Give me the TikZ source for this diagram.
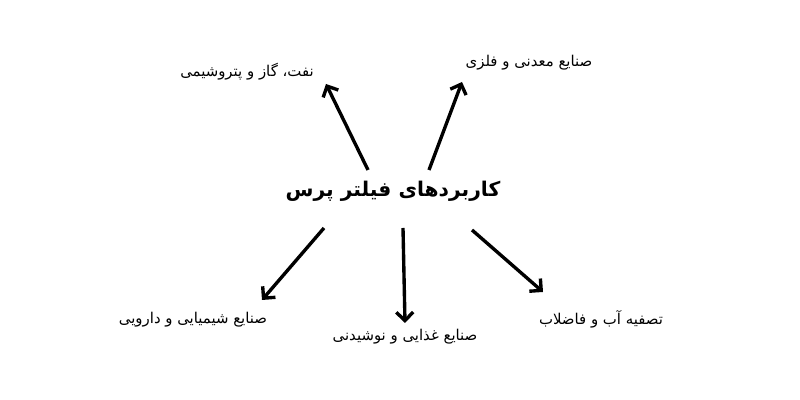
\documentclass[tikz,border=0pt]{standalone}
\usepackage{fontspec}
\newfontfamily\arabicfont[Script=Arabic]{DejaVu Sans}
\TeXXeTstate=1
\usetikzlibrary{arrows.meta}
\tikzset{
	% title in the middle and the five fields round it
	title node/.style={font=\arabicfont\bfseries\fontsize{14.4}{17}\selectfont, inner sep=1},
	field node/.style={font=\arabicfont\fontsize{10.6}{12}\selectfont, inner sep=1},
	field arrow/.style={-{Straight Barb[length=6pt,width=12pt]}, line width=2.4pt}
}
\begin{document}
\begin{tikzpicture}
  \useasboundingbox (0,0) rectangle (20,10);

  \node(title) at (9.825, 5.225) [title node]{\beginR کاربردهای فیلتر پرس\endR};

  \node(oil) at (6.175, 8.2) [field node]{\beginR نفت، گاز و پتروشیمی\endR};
  \node(metal) at (13.225, 8.425) [field node]{\beginR صنایع معدنی و فلزی\endR};
  \node(chem) at (4.825, 2.0) [field node]{\beginR صنایع شیمیایی و دارویی\endR};
  \node(food) at (10.125, 1.575) [field node]{\beginR صنایع غذایی و نوشیدنی\endR};
  \node(water) at (15.025, 2.025) [field node]{\beginR تصفیه آب و فاضلاب\endR};

  %% arrow ends, kept clear of the texts
  \coordinate(s1) at (9.2, 5.75);   \coordinate(e1) at (8.15, 7.9);
  \coordinate(s2) at (10.725, 5.75); \coordinate(e2) at (11.55, 7.95);
  \coordinate(s3) at (8.1, 4.3);    \coordinate(e3) at (6.55, 2.5);
  \coordinate(s4) at (10.075, 4.3); \coordinate(e4) at (10.125, 1.925);
  \coordinate(s5) at (11.8, 4.25);  \coordinate(e5) at (13.575, 2.7);

  \foreach \i in {1,...,5}
    \draw[field arrow] (s\i) -- (e\i);

\end{tikzpicture}
\end{document}
